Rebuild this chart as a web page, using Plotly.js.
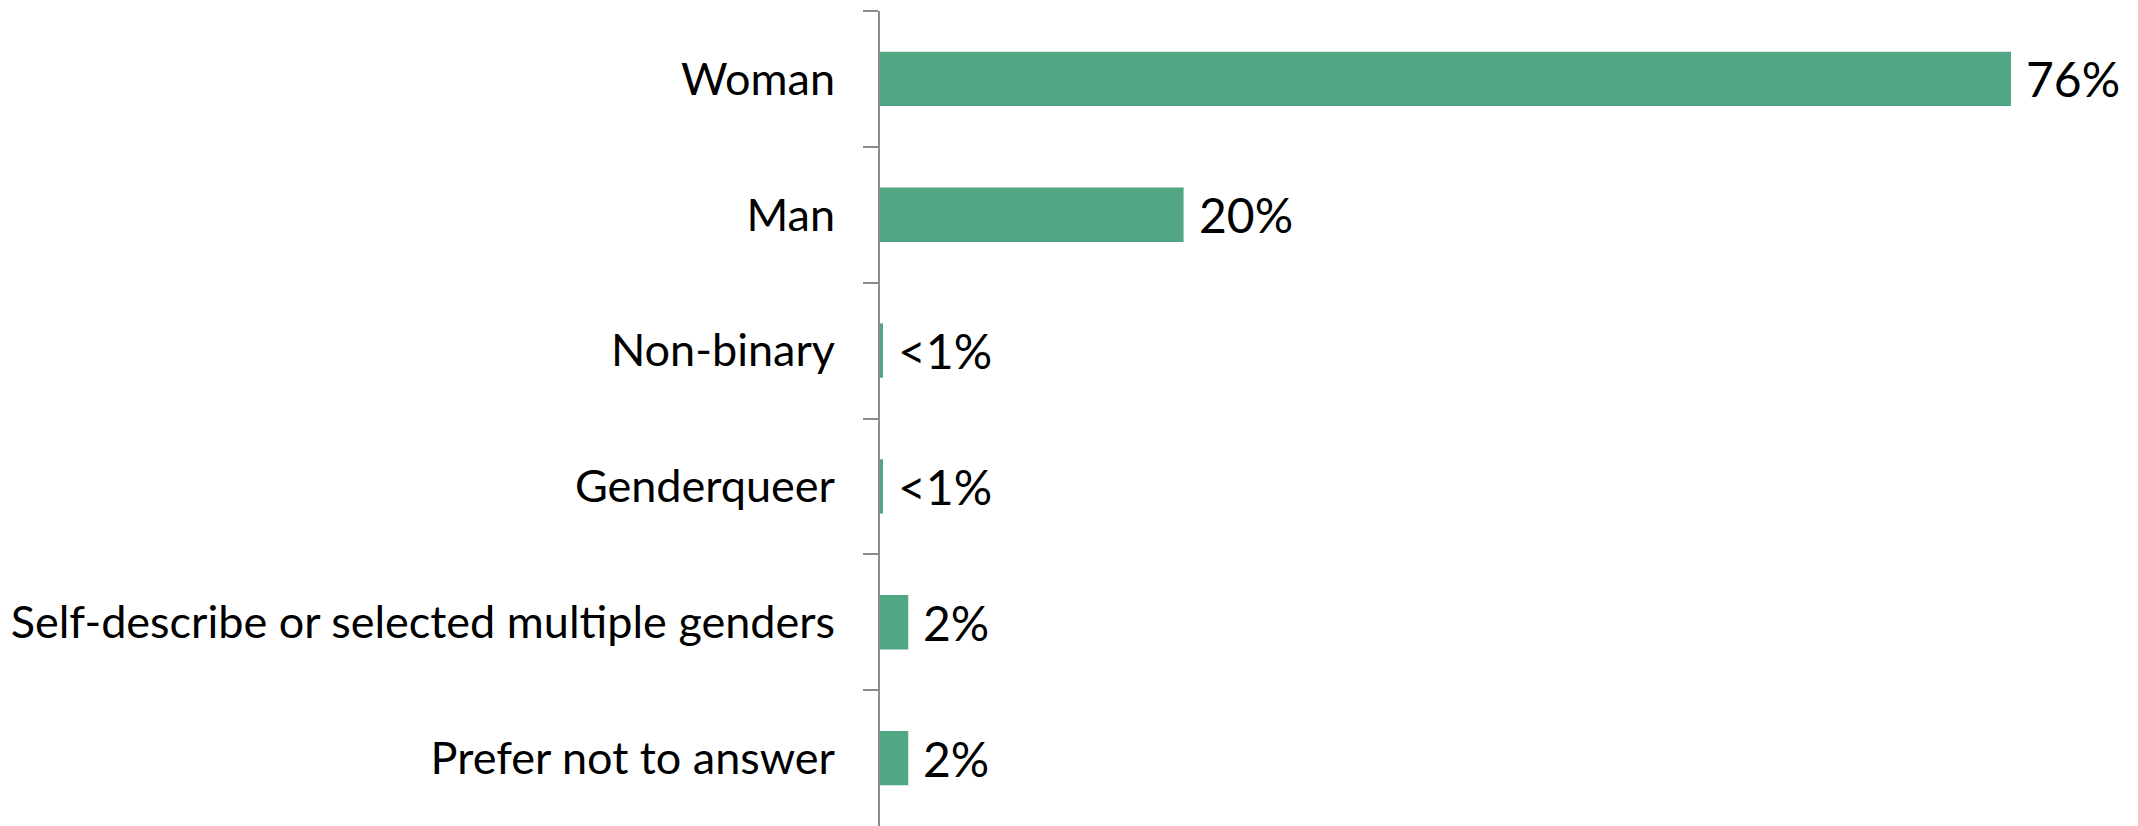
<!DOCTYPE html>
<html>
<head>
<meta charset="utf-8">
<script src="https://cdn.plot.ly/plotly-3.0.1.min.js"></script>
<style>
html,body{margin:0;padding:0;background:#fff;}
#chart{width:2138px;height:826px;}
</style>
</head>
<body>
<div id="chart"></div>
<script>
var categories = ["Woman", "Man", "Non-binary", "Genderqueer", "Self-describe or selected multiple genders", "Prefer not to answer"];
var values = [76, 20.4, 0.2, 0.2, 1.9, 1.9];
var valueLabels = ["76%", "20%", "<1%", "<1%", "2%", "2%"];

var trace = {
  type: "bar",
  orientation: "h",
  y: categories,
  x: values,
  marker: {color: "#51A684"},
  hoverinfo: "none"
};

var annotations = categories.map(function (c, i) {
  return {
    x: values[i], y: c, xref: "x", yref: "y",
    text: valueLabels[i], showarrow: false,
    xanchor: "left", yanchor: "middle", xshift: 13,
    font: {family: "Lato, 'Noto Sans', sans-serif", size: 48, color: "#000"}
  };
});

var layout = {
  width: 2138, height: 826,
  margin: {l: 880, r: 2, t: 11, b: 0, pad: 0},
  paper_bgcolor: "#fff", plot_bgcolor: "#fff",
  showlegend: false,
  bargap: 0.6,
  font: {family: "Lato, 'Noto Sans', sans-serif", color: "#000"},
  xaxis: {
    range: [0, 84.4], showgrid: false, zeroline: false,
    showline: false, showticklabels: false, ticks: ""
  },
  yaxis: {
    type: "category", autorange: "reversed",
    showline: true, linecolor: "#8c8c8c", linewidth: 2,
    ticks: "outside", ticklen: 15, tickwidth: 2, tickcolor: "#8c8c8c",
    tickson: "boundaries", showgrid: false, zeroline: false,
    ticklabelstandoff: 34,
    tickfont: {family: "Lato, 'Noto Sans', sans-serif", size: 45, color: "#000"}
  },
  annotations: annotations
};

Plotly.newPlot("chart", [trace], layout, {staticPlot: true, displayModeBar: false});
</script>
</body>
</html>
